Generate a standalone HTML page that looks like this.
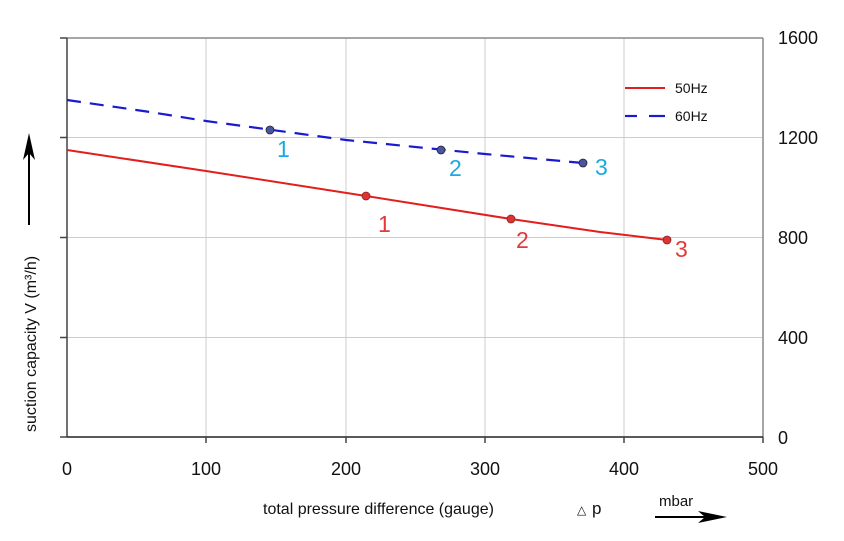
<!DOCTYPE html>
<html><head><style>body{margin:0;background:#fff}</style></head><body>
<svg width="844" height="536" viewBox="0 0 844 536" xmlns="http://www.w3.org/2000/svg" font-family="Liberation Sans, Arial, sans-serif">
<rect width="844" height="536" fill="#fff"/>
<g stroke="#ccc" stroke-width="1">
<line x1="206" y1="38" x2="206" y2="437"/><line x1="346" y1="38" x2="346" y2="437"/>
<line x1="485" y1="38" x2="485" y2="437"/><line x1="624" y1="38" x2="624" y2="437"/>
<line x1="67" y1="137.5" x2="763" y2="137.5"/><line x1="67" y1="237.5" x2="763" y2="237.5"/><line x1="67" y1="337.5" x2="763" y2="337.5"/>
</g>
<line x1="67" y1="38" x2="763" y2="38" stroke="#888" stroke-width="1.5"/>
<line x1="763" y1="38" x2="763" y2="437" stroke="#888" stroke-width="1.5"/>
<line x1="67" y1="38" x2="67" y2="437" stroke="#444" stroke-width="1.5"/>
<line x1="67" y1="437" x2="763" y2="437" stroke="#222" stroke-width="1.5"/>
<g stroke="#444" stroke-width="1.5">
<line x1="60" y1="38" x2="67" y2="38"/><line x1="60" y1="137.5" x2="67" y2="137.5"/><line x1="60" y1="237.5" x2="67" y2="237.5"/><line x1="60" y1="337.5" x2="67" y2="337.5"/><line x1="60" y1="437" x2="67" y2="437"/>
<line x1="206" y1="437" x2="206" y2="443"/><line x1="346" y1="437" x2="346" y2="443"/><line x1="485" y1="437" x2="485" y2="443"/><line x1="624" y1="437" x2="624" y2="443"/><line x1="763" y1="437" x2="763" y2="443"/>
</g>
<g font-size="18" fill="#111" text-anchor="middle">
<text x="67" y="475">0</text><text x="206" y="475">100</text><text x="346" y="475">200</text><text x="485" y="475">300</text><text x="624" y="475">400</text><text x="763" y="475">500</text>
</g>
<g font-size="18" fill="#111" text-anchor="start">
<text x="778" y="44">1600</text><text x="778" y="144">1200</text><text x="778" y="244">800</text><text x="778" y="344">400</text><text x="778" y="444">0</text>
</g>
<text x="263" y="514" font-size="16" fill="#111">total pressure difference (gauge)</text>
<text x="577" y="514" font-size="12" fill="#111">△</text><text x="592" y="514" font-size="17" fill="#111">p</text>
<text x="659" y="506" font-size="15" fill="#111">mbar</text>
<line x1="655" y1="517" x2="712" y2="517" stroke="#000" stroke-width="2"/>
<polygon points="727,517 698,511 705,517 698,523" fill="#000"/>
<text transform="translate(36,432) rotate(-90)" font-size="16" fill="#111">suction capacity V (m³/h)</text>
<line x1="29" y1="225" x2="29" y2="148" stroke="#000" stroke-width="2"/>
<polygon points="29,133 23,160 29,153 35,160" fill="#000"/>
<polyline points="67,150 206,171 366,196 511,219 600,232 667,240" fill="none" stroke="#e21e1e" stroke-width="2"/>
<polyline points="67,100 150,112 206,121 346,140 485,154 583,163" fill="none" stroke="#1a1ad0" stroke-width="2.2" stroke-dasharray="14,9"/>
<g fill="#d33" stroke="#822" stroke-width="0.8">
<circle cx="366" cy="196" r="4"/><circle cx="511" cy="219" r="4"/><circle cx="667" cy="240" r="4"/>
</g>
<g fill="#4a55a0" stroke="#223" stroke-width="0.8">
<circle cx="270" cy="130" r="4"/><circle cx="441" cy="150" r="4"/><circle cx="583" cy="163" r="4"/>
</g>
<g font-size="23" fill="#e23a3a">
<text x="378" y="232">1</text><text x="516" y="248">2</text><text x="675" y="257">3</text>
</g>
<g font-size="23" fill="#1aaae0">
<text x="277" y="157">1</text><text x="449" y="176">2</text><text x="595" y="175">3</text>
</g>
<line x1="625" y1="88" x2="665" y2="88" stroke="#e21e1e" stroke-width="2"/>
<text x="675" y="93" font-size="14" fill="#111">50Hz</text>
<line x1="625" y1="116" x2="637" y2="116" stroke="#1a1ad0" stroke-width="2.2"/>
<line x1="649" y1="116" x2="665" y2="116" stroke="#1a1ad0" stroke-width="2.2"/>
<text x="675" y="121" font-size="14" fill="#111">60Hz</text>
</svg>
</body></html>
